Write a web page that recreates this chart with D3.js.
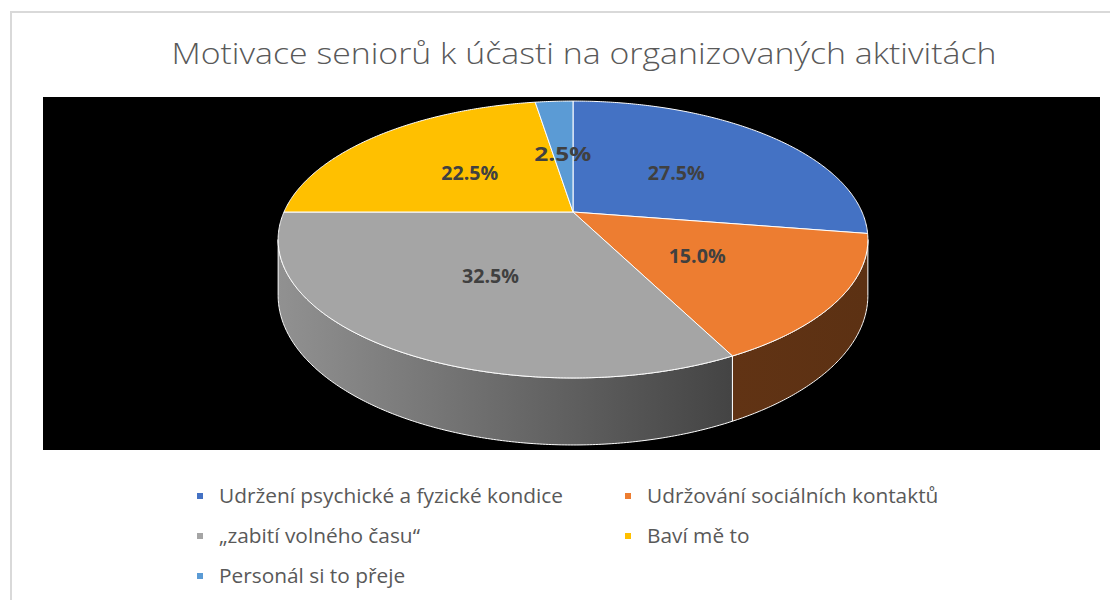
<!DOCTYPE html>
<html>
<head>
<meta charset="utf-8">
<script src="https://cdn.jsdelivr.net/npm/d3@7"></script>
<style>
  body { margin: 0; background: #fff; }
  svg { display: block; font-family: "Open Sans", sans-serif; }
</style>
</head>
<body>
<script>
const width = 1110
const height = 600

/* Chart data */
const title = "Motivace seniorů k účasti na organizovaných aktivitách"
const categories = [
  "Udržení psychické a fyzické kondice",
  "Udržování sociálních kontaktů",
  "„zabití volného času“",
  "Baví mě to",
  "Personál si to přeje"
]
const values = [27.5, 15.0, 32.5, 22.5, 2.5]
const colors = ["#4472C4", "#ED7D31", "#A5A5A5", "#FFC000", "#5B9BD5"]

/* Pie geometry (perspective tilted disc) */
const cx = 573, cy = 212
const rx = 289, ry = 133
const k = 0.1986      // perspective strength
const depth = 53.7    // side height before perspective

const svg = d3.select("body")
  .append("svg")
  .attr("width", width)
  .attr("height", height)

/* Chart frame */
svg.append("rect")
  .attr("x", 11).attr("y", 12)
  .attr("width", width + 20).attr("height", height + 20)
  .attr("fill", "#fff")
  .attr("stroke", "#d9d9d9")
  .attr("stroke-width", 2)

/* Plot area */
svg.append("rect")
  .attr("x", 43).attr("y", 97)
  .attr("width", 1057).attr("height", 353)
  .attr("fill", "#000")

/* Title */
svg.append("text")
  .attr("x", 584).attr("y", 64)
  .attr("text-anchor", "middle")
  .attr("font-size", 30)
  .attr("font-weight", 300)
  .attr("fill", "#595959")
  .attr("textLength", 825)
  .attr("lengthAdjust", "spacingAndGlyphs")
  .text(title)

/* Project an angle (clockwise from top) on the disc */
function proj(theta, f = 1, drop = 0) {
  const u = f * Math.sin(theta)
  const v = -f * Math.cos(theta)
  const s = 1 / (1 - k * v)
  return [cx + rx * u * s, cy + ry * v * s + drop * s]
}

function arcPoints(a0, a1, drop) {
  const n = Math.max(2, Math.ceil(Math.abs(a1 - a0) / (Math.PI / 360)))
  return d3.range(n + 1).map(i => proj(a0 + (a1 - a0) * i / n, 1, drop))
}

const pie = d3.pie().sort(null).value(d => d)
const arcs = pie(values)

/* Visible front part of the side */
const frontA = Math.acos(-k)
const frontB = 2 * Math.PI - frontA
const xLeft = proj(frontB)[0]
const xRight = proj(frontA)[0]

const defs = svg.append("defs")
arcs.forEach((d, i) => {
  const c = d3.rgb(colors[i])
  const shade = t => d3.rgb(c.r * t, c.g * t, c.b * t).formatHex()
  const g = defs.append("linearGradient")
    .attr("id", "side" + i)
    .attr("gradientUnits", "userSpaceOnUse")
    .attr("x1", xLeft).attr("x2", xRight)
    .attr("y1", 0).attr("y2", 0)
  g.append("stop").attr("offset", 0).attr("stop-color", shade(0.88))
  g.append("stop").attr("offset", 0.767).attr("stop-color", shade(0.41))
  g.append("stop").attr("offset", 1).attr("stop-color", shade(0.39))
})

/* Sides */
const sides = svg.append("g")
arcs.forEach((d, i) => {
  const a0 = Math.max(d.startAngle, frontA)
  const a1 = Math.min(d.endAngle, frontB)
  if (a1 <= a0) return
  const pts = arcPoints(a0, a1, 0).concat(arcPoints(a1, a0, depth))
  sides.append("path")
    .attr("d", d3.line()(pts) + "Z")
    .attr("fill", `url(#side${i})`)
    .attr("stroke", "#fff")
    .attr("stroke-width", 1)
    .attr("stroke-linejoin", "round")
})

/* Top faces */
const tops = svg.append("g")
arcs.forEach((d, i) => {
  const pts = [[cx, cy]].concat(arcPoints(d.startAngle, d.endAngle, 0))
  tops.append("path")
    .attr("d", d3.line()(pts) + "Z")
    .attr("fill", colors[i])
    .attr("stroke", "#fff")
    .attr("stroke-width", 1)
    .attr("stroke-linejoin", "round")
})

/* Data labels */
const fmt = d3.format(".1f")
arcs.forEach((d, i) => {
  const p = proj((d.startAngle + d.endAngle) / 2, 0.5, 0)
  svg.append("text")
    .attr("x", p[0]).attr("y", p[1] + 2)
    .attr("dy", "0.35em")
    .attr("text-anchor", "middle")
    .attr("font-size", 20)
    .attr("font-weight", "bold")
    .attr("fill", "#404040")
    .attr("textLength", 57)
    .attr("lengthAdjust", "spacingAndGlyphs")
    .text(fmt(values[i]) + "%")
})

/* Legend */
const legendCols = [197, 625]
const legendRows = [503, 543, 583]
const legend = svg.append("g")
let scaleX = 1
categories.forEach((name, i) => {
  const x = legendCols[i % 2]
  const y = legendRows[Math.floor(i / 2)]
  legend.append("rect")
    .attr("x", x).attr("y", y - 10)
    .attr("width", 6).attr("height", 6)
    .attr("fill", colors[i])
  const t = legend.append("text")
    .attr("x", x + 22).attr("y", y)
    .attr("font-size", 20)
    .attr("fill", "#595959")
    .text(name)
  const w = t.node().getComputedTextLength()
  if (i === 0) scaleX = 344 / w
  t.attr("textLength", w * scaleX).attr("lengthAdjust", "spacingAndGlyphs")
})
</script>
</body>
</html>
